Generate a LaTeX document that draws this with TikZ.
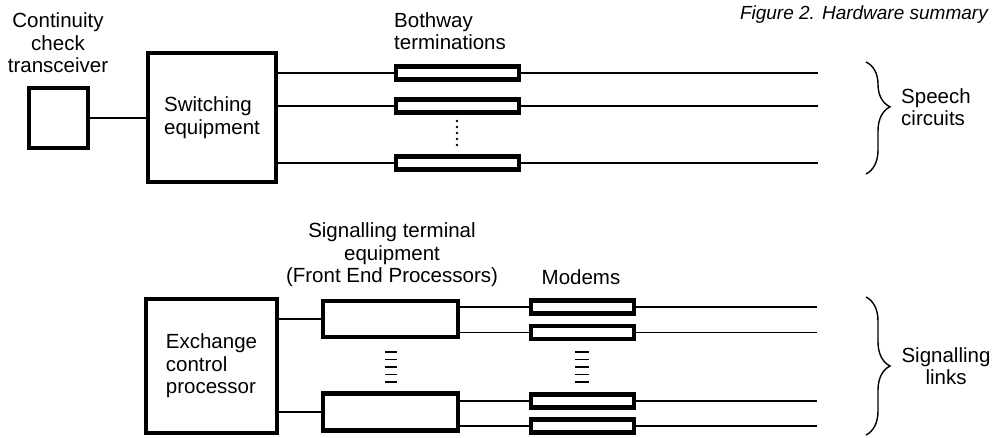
\documentclass[tikz,border=0pt]{standalone}
\usepackage{fontspec}
\setmainfont{Liberation Sans}
\usetikzlibrary{decorations.pathreplacing}
\begin{document}
\begin{tikzpicture}[x=1pt,y=-1pt,
  box/.style={draw, line width=4.5pt, inner sep=0pt},
  wire/.style={line width=1.2pt},
  lbl/.style={font=\fontsize{20.5}{22.5}\selectfont, inner sep=0pt},
  brc/.style={decorate, line width=1.4pt, decoration={brace, amplitude=24pt}},
  tick/.style={line width=1.4pt}
]
\useasboundingbox (0,0) rectangle (992,437);

% caption
\node[lbl, font=\fontsize{19}{22.5}\selectfont\itshape, anchor=east] (cap) at (988,15) {Figure 2. Hardware summary};

% ---------------- top part ----------------
\node[lbl, align=center] (cclbl) at (58,43) {Continuity\\check\\transceiver};
\node[box, minimum width=59pt, minimum height=60pt] (cc) at (58.5,118) {};
\node[box, lbl, align=left, minimum width=128pt, minimum height=129pt] (sw) at (212,117.5) {Switching\\equipment};

\node[lbl, align=left, anchor=west] (bwlbl) at (394,31) {Bothway\\terminations};
\node[box, minimum width=123pt, minimum height=13pt] (b1) at (457.5,73) {};
\node[box, minimum width=123pt, minimum height=13pt] (b2) at (457.5,106) {};
\node[box, minimum width=123pt, minimum height=13pt] (b3) at (457.5,163) {};

\coordinate (e1) at (818,73);
\coordinate (e2) at (818,106);
\coordinate (e3) at (818,163);

\draw[wire] (cc.east) -- (cc.east -| sw.west);
\draw[wire] (sw.east |- b1.west) -- (b1.west);
\draw[wire] (sw.east |- b2.west) -- (b2.west);
\draw[wire] (sw.east |- b3.west) -- (b3.west);
\draw[wire] (b1.east) -- (e1);
\draw[wire] (b2.east) -- (e2);
\draw[wire] (b3.east) -- (e3);

\foreach \y in {121,127,133,139,145} \fill (457,\y) circle (1.4pt);

\draw[brc, decoration={aspect=0.4}] (866,62) -- (866,174);
\node[lbl, align=left, anchor=west] (sc) at (901,107) {Speech\\circuits};

% ---------------- bottom part ----------------
\node[box, lbl, align=left, minimum width=131pt, minimum height=134pt] (ecp) at (211.5,366) {Exchange\\control\\processor};

\node[lbl, align=center] (felbl) at (392,255) {Signalling terminal\\equipment\\(Front End Processors)};
\node[box, minimum width=135pt, minimum height=36pt] (f1) at (390.5,319) {};
\node[box, minimum width=135pt, minimum height=37pt] (f2) at (390.5,412) {};

\node[lbl] (mlbl) at (581,277) {Modems};
\node[box, minimum width=103pt, minimum height=13pt] (m1) at (582.5,307) {};
\node[box, minimum width=103pt, minimum height=13pt] (m2) at (582.5,332.5) {};
\node[box, minimum width=103pt, minimum height=13pt] (m3) at (582.5,401) {};
\node[box, minimum width=103pt, minimum height=13pt] (m4) at (582.5,426) {};

\coordinate (g1) at (817,307);
\coordinate (g2) at (817,332.5);
\coordinate (g3) at (817,401);
\coordinate (g4) at (817,426);

\draw[wire] (ecp.east |- f1.west) -- (f1.west);
\draw[wire] (ecp.east |- f2.west) -- (f2.west);
\draw[wire] (f1.east |- m1.west) -- (m1.west);
\draw[wire] (f1.east |- m2.west) -- (m2.west);
\draw[wire] (f2.east |- m3.west) -- (m3.west);
\draw[wire] (f2.east |- m4.west) -- (m4.west);
\draw[wire] (m1.east) -- (g1);
\draw[wire] (m2.east) -- (g2);
\draw[wire] (m3.east) -- (g3);
\draw[wire] (m4.east) -- (g4);

\foreach \y in {352,359.5,367,374.5,382} {
  \draw[tick] (385,\y) -- (397,\y);
  \draw[tick] (575,\y) -- (589,\y);
}

\draw[brc, decoration={aspect=0.5}] (866,297) -- (866,435);
\node[lbl, align=center] (sl) at (946,366) {Signalling\\links};
\end{tikzpicture}
\end{document}
